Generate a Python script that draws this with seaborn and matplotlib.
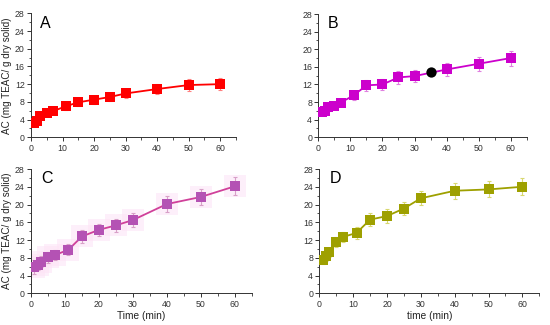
import matplotlib
matplotlib.use("Agg")
import matplotlib.pyplot as plt
import seaborn as sns
import numpy as np
import pandas as pd
from matplotlib.ticker import MultipleLocator

sns.set_theme(style="white")
plt.rcParams['font.family'] = ['Liberation Sans', 'DejaVu Sans']

time = [1, 2, 3, 5, 7, 11, 15, 20, 25, 30, 40, 50, 60]
ac_a = [3.2, 3.6, 4.7, 5.5, 5.9, 7.0, 7.9, 8.5, 9.1, 9.9, 10.9, 11.8, 12.0]
err_a = [0.5, 0.5, 0.6, 0.7, 0.7, 0.8, 0.9, 0.9, 1.0, 1.1, 1.1, 1.3, 1.4]
ac_b = [5.7, 6.0, 6.8, 7.2, 7.9, 9.5, 11.8, 12.0, 13.6, 13.9, 15.4, 16.7, 18.0]
err_b = [0.7, 0.7, 0.8, 0.8, 0.9, 1.0, 1.3, 1.3, 1.4, 1.4, 1.5, 1.6, 1.7]
ac_c = [5.9, 6.4, 7.1, 8.1, 8.6, 9.8, 12.8, 14.3, 15.3, 16.5, 20.1, 21.7, 24.1]
err_c = [1.5, 1.2, 1.2, 1.2, 1.2, 1.2, 1.5, 1.4, 1.5, 1.6, 1.8, 1.9, 2.0]
ac_d = [7.5, 8.3, 9.2, 11.6, 12.7, 13.6, 16.6, 17.4, 19.1, 21.4, 23.1, 23.4, 24.0]
err_d = [1.0, 1.0, 1.0, 1.1, 1.2, 1.3, 1.5, 1.5, 1.5, 1.6, 1.8, 1.8, 1.9]
b_point_x = [35]
b_point_y = [14.9]

panel_labels = ["A", "B", "C", "D"]
ylabel = "AC (mg TEAC/ g dry solid)"
xlabels = ["", "", "Time (min)", "time (min)"]

fig = plt.figure(figsize=(5.5, 3.25), dpi=100)
rects = [
    (31/550, 1-137.3/325, 205/550, 124/325),
    (318.3/550, 1-137.3/325, 208.5/550, 123.3/325),
    (31/550, 1-293.3/325, 220.7/550, 124.3/325),
    (319.3/550, 1-293.3/325, 220/550, 124.3/325),
]
series = [
    (ac_a, err_a, "#FF0000", "#FF0000", "#FF8080"),
    (ac_b, err_b, "#CC00CC", "#CC00CC", "#E080E0"),
    (ac_c, err_c, "#B452B4", "#D0409A", "#D8A0C8"),
    (ac_d, err_d, "#9EA000", "#9EA000", "#D8D870"),
]

for i, (rect, (vals, errs, mcol, lcol, ecol)) in enumerate(zip(rects, series)):
    ax = fig.add_axes(rect)
    df = pd.DataFrame({"t": time, "ac": vals, "err": errs})
    if i == 2:
        sns.scatterplot(data=df, x="t", y="ac", ax=ax, marker="s", s=260,
                        color="#FDE3F6", alpha=0.55, linewidth=0, zorder=1)
    ax.errorbar(df["t"], df["ac"], yerr=df["err"], fmt="none", ecolor=ecol,
                elinewidth=0.8, capsize=1.5, capthick=0.8, zorder=2)
    sns.lineplot(data=df, x="t", y="ac", ax=ax, color=lcol, linewidth=1.3, zorder=3)
    sns.scatterplot(data=df, x="t", y="ac", ax=ax, marker="s", s=50,
                    color=mcol, linewidth=0, zorder=4)
    if i == 1:
        sns.scatterplot(x=b_point_x, y=b_point_y, ax=ax, marker="o", s=55,
                        color="black", linewidth=0, zorder=5)
    ax.set_xlim(0, 65)
    ax.set_ylim(0, 28)
    ax.xaxis.set_major_locator(MultipleLocator(10))
    ax.xaxis.set_minor_locator(MultipleLocator(5))
    ax.yaxis.set_major_locator(MultipleLocator(4))
    ax.yaxis.set_minor_locator(MultipleLocator(2))
    ax.tick_params(axis="both", which="major", direction="out", length=3, width=0.7,
                   labelsize=6.3, pad=1.5, colors="#333333", bottom=True, left=True)
    ax.tick_params(axis="both", which="minor", direction="out", length=1.8, width=0.6,
                   bottom=True, left=True, colors="#333333")
    for s in ["top", "right"]:
        ax.spines[s].set_visible(False)
    for s in ["left", "bottom"]:
        ax.spines[s].set_color("#333333")
        ax.spines[s].set_linewidth(0.7)
    ax.set_xlabel(xlabels[i], fontsize=7.3, labelpad=2, color="#222222")
    if i in (0, 2):
        ax.set_ylabel(ylabel, fontsize=7.1, labelpad=2, color="#222222")
    else:
        ax.set_ylabel("")
    ax.text(3.0, 25.8, panel_labels[i], fontsize=11.5, ha="left", va="center", color="black")

fig.savefig("out.png", dpi=100)
